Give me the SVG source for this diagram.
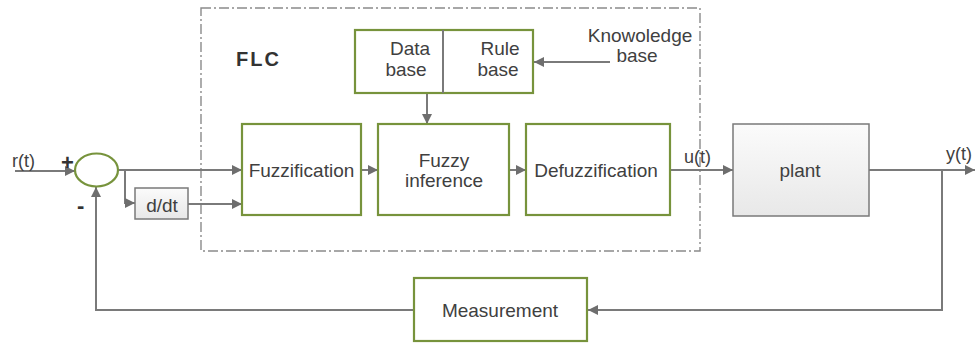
<svg xmlns="http://www.w3.org/2000/svg" width="976" height="345" viewBox="0 0 976 345">
  <style>
    .blk { fill: #ffffff; stroke: #77933c; stroke-width: 2.2; }
    .gray { fill: url(#boxfill); stroke: #7a7a7a; stroke-width: 1.5; }
    .wire { fill: none; stroke: #7a7a7a; stroke-width: 2; }
    .frame { fill: none; stroke: #8a8a8a; stroke-width: 1.4; stroke-dasharray: 10 3 2 3; }
    text { font-family: "Liberation Sans", Arial, sans-serif; font-size: 19px; fill: #404040; }
    .mid { text-anchor: middle; }
    .title { font-weight: bold; font-size: 20px; letter-spacing: 2px; fill: #333333; }
    .sign { font-size: 22px; font-weight: bold; fill: #333333; }
  </style>
  <defs>
    <linearGradient id="boxfill" x1="0" y1="0" x2="0" y2="1">
      <stop offset="0" stop-color="#fbfbfb"/>
      <stop offset="1" stop-color="#e8e8e8"/>
    </linearGradient>
    <marker id="arr" viewBox="0 0 10 10" refX="10" refY="5" markerWidth="5" markerHeight="5" orient="auto" markerUnits="strokeWidth">
      <path d="M0,0 L10,5 L0,10 Z" fill="#6e6e6e"/>
    </marker>
  </defs>

  <!-- FLC boundary -->
  <g id="flc">
    <rect class="frame" x="201" y="8" width="499" height="243"/>
    <text class="title" x="236" y="66">FLC</text>
  </g>

  <!-- Connectors -->
  <g id="connectors">
    <path class="wire" d="M15,171 H75" marker-end="url(#arr)"/>
    <path class="wire" d="M118,170 H242" marker-end="url(#arr)"/>
    <path class="wire" d="M125,170 V203 H135" marker-end="url(#arr)"/>
    <path class="wire" d="M188,204 H242" marker-end="url(#arr)"/>
    <path class="wire" d="M361,170 H378" marker-end="url(#arr)"/>
    <path class="wire" d="M509,170 H526" marker-end="url(#arr)"/>
    <path class="wire" d="M427,93 V124" marker-end="url(#arr)"/>
    <path class="wire" d="M610,62 H534" marker-end="url(#arr)"/>
    <path class="wire" d="M670,170 H733" marker-end="url(#arr)"/>
    <path class="wire" d="M869,170 H975" marker-end="url(#arr)"/>
    <path class="wire" d="M942,170 V310 H588" marker-end="url(#arr)"/>
    <path class="wire" d="M414,310 H96 V187" marker-end="url(#arr)"/>
  </g>

  <!-- Summing junction -->
  <g id="sum">
    <ellipse cx="96.5" cy="170" rx="21.5" ry="16.5" fill="#ffffff" stroke="#77933c" stroke-width="2.2"/>
    <text class="sign" x="61" y="170">+</text>
    <text class="sign" x="77" y="213">-</text>
  </g>

  <g id="ddt">
    <rect class="gray" x="135" y="188" width="53" height="31"/>
    <text class="mid" x="162" y="212">d/dt</text>
  </g>

  <g id="knowledge">
    <rect class="blk" x="355" y="30" width="178" height="63"/>
    <line x1="443" y1="30" x2="443" y2="93" stroke="#7a7a7a" stroke-width="2"/>
    <text class="mid" x="410" y="55">Data</text>
    <text class="mid" x="406" y="76">base</text>
    <text class="mid" x="500" y="55">Rule</text>
    <text class="mid" x="498" y="76">base</text>
  </g>

  <g id="knowledge-label">
    <text class="mid" x="640" y="42">Knowoledge</text>
    <text class="mid" x="637" y="62">base</text>
  </g>

  <g id="fuzzification">
    <rect class="blk" x="242" y="124" width="119" height="91"/>
    <text class="mid" x="301.5" y="177">Fuzzification</text>
  </g>

  <g id="inference">
    <rect class="blk" x="378" y="124" width="131" height="91"/>
    <text class="mid" x="444" y="167">Fuzzy</text>
    <text class="mid" x="444" y="187">inference</text>
  </g>

  <g id="defuzzification">
    <rect class="blk" x="526" y="124" width="144" height="91"/>
    <text class="mid" x="596" y="177">Defuzzification</text>
  </g>

  <g id="plant">
    <rect class="gray" x="733" y="124" width="136" height="92" stroke-width="2"/>
    <text class="mid" x="800" y="177">plant</text>
  </g>

  <g id="measurement">
    <rect class="blk" x="414" y="278" width="173" height="63"/>
    <text class="mid" x="500" y="317">Measurement</text>
  </g>

  <g id="signals">
    <text x="12" y="167" style="font-size:18px">r(t)</text>
    <text x="684" y="163" style="font-size:18px">u(t)</text>
    <text x="946" y="160" style="font-size:18px">y(t)</text>
  </g>
</svg>
